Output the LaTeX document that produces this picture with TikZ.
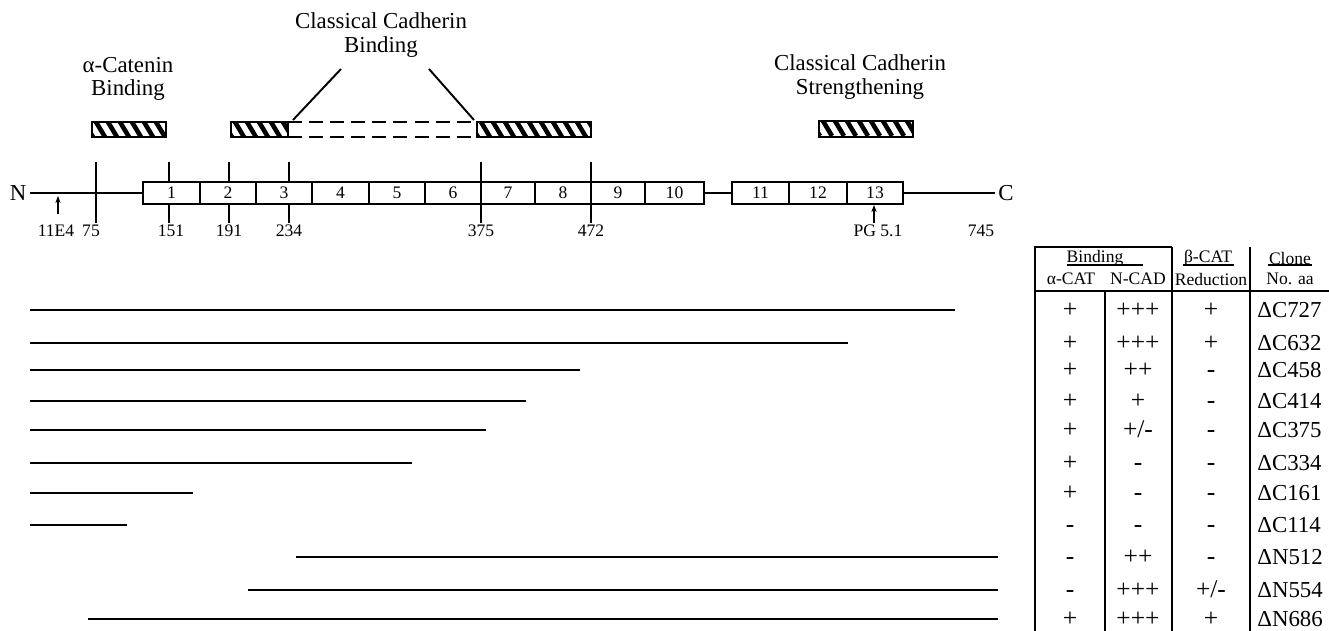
\documentclass[tikz,border=0pt]{standalone}
\usepackage{fontspec}
\setmainfont{Liberation Serif}
\usetikzlibrary{arrows.meta}

% hatched binding region: left, right, top, bottom
\newcommand\hatchbox[4]{%
  \begin{scope}
    \clip (#1,#3) rectangle (#2,#4);
    \foreach \s in {-20,-8,...,200} \draw[stripe] (#1+\s,#3) -- ++(9,15);
  \end{scope}
  \draw[bar] (#1,#3) rectangle (#2,#4);
}
\newcommand\plusminus{+/-}

\tikzset{
  title/.style={align=center, font=\fontsize{13}{13.5}\selectfont, inner sep=0pt},
  bar/.style={line width=1.1pt},
  stripe/.style={line width=2.6pt},
  dashline/.style={line width=1pt, dash pattern=on 8pt off 4pt},
  dom/.style={draw, line width=1.1pt, inner sep=0pt, minimum height=22*0.02cm,
    font=\fontsize{10}{10}\selectfont},
  term/.style={font=\fontsize{13}{13}\selectfont, inner sep=2pt},
  chain/.style={line width=1.1pt},
  tickline/.style={line width=0.9pt},
  reslab/.style={font=\fontsize{10}{10}\selectfont, inner sep=1pt},
  pointer/.style={-{Stealth[length=4pt,width=3pt]}, line width=0.8pt},
  clone/.style={line width=1.1pt},
  rule/.style={line width=1.1pt},
  head/.style={font=\fontsize{10}{10}\selectfont, inner sep=0pt},
  cell/.style={font=\fontsize{14.5}{14.5}\selectfont, inner sep=0pt, text height=8pt, text depth=0pt},
  clonecell/.style={font=\fontsize{13}{13}\selectfont, inner sep=0pt, text height=8pt, text depth=0pt},
}

\begin{document}
\begin{tikzpicture}[x=0.02cm, y=-0.02cm, >=Stealth]
  \useasboundingbox (0,0) rectangle (1329,631);

  % binding regions
  \node[title] (catbind) at (128,79) {α-Catenin\\Binding};
  \node[title] (cadbind) at (381,35) {Classical Cadherin\\Binding};
  \node[title] (cadstr) at (860,77) {Classical Cadherin\\Strengthening};

  \hatchbox{92}{166}{122}{137}
  \hatchbox{231}{288}{122}{137}
  \draw[dashline] (288,122) -- (477,122);
  \draw[dashline] (288,137) -- (477,137);
  \hatchbox{477}{591}{122}{137}
  \hatchbox{819}{913}{121}{137}

  \coordinate (cbl0) at (341,69);
  \coordinate (cbl) at (293,120);
  \coordinate (cbr0) at (429,69);
  \coordinate (cbr) at (474,120);
  \draw[chain] (cbl0) -- (cbl);
  \draw[chain] (cbr0) -- (cbr);

  % protein with armadillo repeats
  \node[term] (nterm) at (18,193) {N};
  \node[term] (cterm) at (1006,193) {C};
  \foreach \xa/\xb/\n in {143/200/1, 200/256/2, 256/312/3, 312/369/4, 369/425/5,
      425/481/6, 481/535/7, 535/591/8, 591/645/9, 645/704/10,
      732/789/11, 789/847/12, 847/903/13}
    \node[dom, minimum width={(\xb-\xa)*0.02cm}] (d\n) at ({(\xa+\xb)/2},193) {\n};
  \draw[chain] (nterm) -- (d1);
  \draw[chain] (d10) -- (d11);
  \draw[chain] (d13) -- (cterm);

  % residue marks
  \foreach \x/\r/\lx in {96/75/91, 169/151/171, 229/191/229, 289/234/289, 481/375/481, 591/472/591} {
    \coordinate (t\r) at (\x,162);
    \node[reslab] (r\r) at (\lx,231) {\r};
  }
  \foreach \r in {75,375,472}
    \draw[tickline] (t\r) -- (t\r |- r\r.north);
  \foreach \r in {151,191,234} {
    \draw[tickline] (t\r) -- (t\r |- d1.north);
    \draw[tickline] (t\r |- d1.south) -- (t\r |- r\r.north);
  }
  \node[reslab] (r745) at (981,231) {745};

  % antibody epitopes
  \node[reslab] (e11) at (56,231) {11E4};
  \coordinate (a11) at (58,196);
  \draw[pointer, shorten <=5pt] (a11 |- e11.north) -- (a11);
  \node[reslab] (pg) at (878,231) {PG 5.1};
  \coordinate (apg) at (874,205);
  \draw[pointer] (apg |- pg.north) -- (apg);

  % table frame
  \draw[rule] (1035,631) -- (1035,247) -- (1172,247);
  \draw[rule] (1172,247) -- (1172,631);
  \draw[rule] (1250,247) -- (1250,631);
  \draw[rule] (1105,291) -- (1105,631);
  \draw[rule] (1035,291) -- (1329,291);

  % table header
  \node[head] (hbind) at (1095,258) {Binding};
  \node[head] (hbcat) at (1208,258) {β-CAT};
  \node[head] (hclone) at (1290,258) {Clone};
  \draw[tickline] (1067,265) -- (1143,265);
  \draw[tickline] (1183,265) -- (1234,265);
  \draw[tickline] (1268,265) -- (1312,265);
  \node[head] (hacat) at (1071,279) {α-CAT};
  \node[head] (hncad) at (1138,279) {N-CAD};
  \node[head] (hred) at (1211,279) {Reduction};
  \node[head] (hno) at (1290,279) {No. aa};

  % deletion constructs and results
  \foreach \y/\xs/\xe/\a/\b/\c/\clone [count=\i] in {
      310/30/955/+/+++/+/C727,
      343/30/848/+/+++/+/C632,
      370/30/580/+/++/-/C458,
      401/30/526/+/+/-/C414,
      430/30/486/+/\plusminus/-/C375,
      463/30/412/+/-/-/C334,
      493/30/193/+/-/-/C161,
      525/30/127/-/-/-/C114,
      557/296/998/-/++/-/N512,
      590/248/998/-/+++/\plusminus/N554,
      619/88/998/+/+++/+/N686} {
    \coordinate (s\i) at (\xs,\y);
    \coordinate (f\i) at (\xe,\y);
    \draw[clone] (s\i) -- (f\i);
    \node[cell] (ca\i) at (1070,\y) {\a};
    \node[cell] (cb\i) at (1138,\y) {\b};
    \node[cell] (cc\i) at (1211,\y) {\c};
    \node[clonecell, anchor=west] (cn\i) at (1257,\y) {Δ\clone};
  }
\end{tikzpicture}
\end{document}
